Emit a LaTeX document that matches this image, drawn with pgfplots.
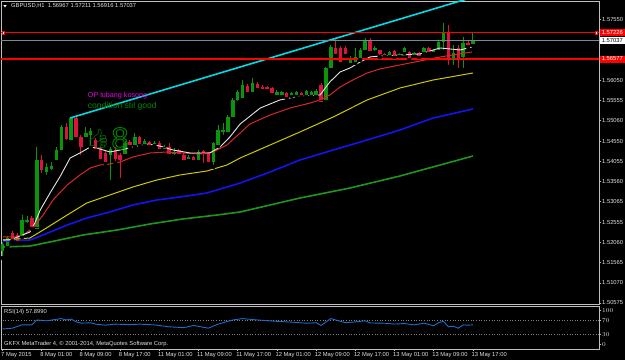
\documentclass[border=0pt]{standalone}
\usepackage{pgfplots}
\pgfplotsset{compat=1.18}
\usepackage{pgfplotstable}
\usepackage{fontspec}
\setmainfont{Liberation Sans}
\newfontfamily\emojifont{Noto Emoji}
\definecolor{framec}{RGB}{192,192,192}
\definecolor{labc}{RGB}{225,225,225}
\definecolor{cgreen}{RGB}{10,150,10}
\definecolor{cred}{RGB}{220,20,60}
\definecolor{mawhite}{RGB}{230,230,230}
\definecolor{mared}{RGB}{215,40,40}
\definecolor{mayellow}{RGB}{205,200,0}
\definecolor{mablue}{RGB}{20,20,240}
\definecolor{magreen}{RGB}{30,150,30}
\definecolor{cyanc}{RGB}{0,220,230}
\definecolor{hred}{RGB}{255,0,0}
\definecolor{bidc}{RGB}{119,136,153}
\definecolor{rsic}{RGB}{30,110,200}
\definecolor{magc}{RGB}{235,0,235}
\definecolor{txtgreen}{RGB}{0,135,0}
\newcommand\mtf{\fontsize{5.8}{6.5}\selectfont}

\pgfplotstableread{
i o h l c
0 1.51878 1.52075 1.51681 1.52026
1 1.52001 1.52222 1.51952 1.52173
4 1.52247 1.52739 1.52198 1.52616
5 1.52567 1.52714 1.52493 1.52616
7 1.52419 1.54412 1.52395 1.54092
9 1.53797 1.54018 1.53674 1.53920
10 1.53871 1.54043 1.53797 1.53944
11 1.54092 1.54412 1.54043 1.54338
12 1.54338 1.54953 1.54289 1.54904
14 1.54584 1.55150 1.54535 1.55125
17 1.54658 1.54904 1.54633 1.54756
18 1.54707 1.54879 1.54412 1.54805
22 1.54215 1.54412 1.53551 1.54363
25 1.54264 1.54559 1.54215 1.54510
27 1.54461 1.54756 1.54412 1.54658
29 1.54510 1.54609 1.54461 1.54559
31 1.54486 1.54559 1.54436 1.54510
33 1.54387 1.54461 1.54363 1.54412
35 1.54264 1.54387 1.54166 1.54289
38 1.54141 1.54215 1.54092 1.54166
40 1.54092 1.54338 1.54067 1.54289
43 1.54043 1.54535 1.53920 1.54510
44 1.54461 1.54953 1.54436 1.54830
45 1.54781 1.55002 1.54658 1.54830
46 1.54781 1.55199 1.54756 1.55150
47 1.55150 1.55617 1.55125 1.55568
48 1.55568 1.55814 1.55494 1.55765
49 1.55617 1.56060 1.55568 1.55937
51 1.55789 1.56109 1.55740 1.55986
56 1.55691 1.55814 1.55666 1.55765
57 1.55691 1.55789 1.55666 1.55765
59 1.55691 1.55765 1.55666 1.55740
60 1.55691 1.55789 1.55666 1.55765
62 1.55691 1.55814 1.55666 1.55789
63 1.55691 1.55789 1.55666 1.55765
64 1.55691 1.55839 1.55666 1.55789
66 1.55568 1.56380 1.55543 1.56355
67 1.56355 1.56921 1.56306 1.56872
71 1.56478 1.56650 1.56454 1.56601
72 1.56503 1.56847 1.56478 1.56626
73 1.56601 1.56847 1.56552 1.56798
74 1.56798 1.57093 1.56749 1.57044
76 1.56798 1.56896 1.56724 1.56847
79 1.56675 1.56773 1.56650 1.56749
81 1.56675 1.56724 1.56650 1.56700
82 1.56749 1.56872 1.56724 1.56847
84 1.56675 1.56749 1.56650 1.56724
86 1.56749 1.56872 1.56724 1.56847
88 1.56749 1.56823 1.56724 1.56798
89 1.56798 1.57019 1.56749 1.56995
90 1.56995 1.57462 1.56749 1.57241
92 1.56552 1.56921 1.56380 1.56724
94 1.56626 1.57118 1.56306 1.56970
96 1.56967 1.57211 1.56916 1.57037
}\bull

\pgfplotstableread{
i o h l c
2 1.52296 1.52345 1.52099 1.52149
3 1.52247 1.52296 1.52075 1.52124
6 1.52665 1.52714 1.52395 1.52444
8 1.54092 1.54215 1.53723 1.53846
13 1.54904 1.55002 1.54535 1.54609
15 1.55125 1.55150 1.54633 1.54658
16 1.54658 1.54707 1.54166 1.54412
19 1.54584 1.54633 1.54338 1.54387
20 1.54387 1.54412 1.54092 1.54117
21 1.54264 1.54313 1.54018 1.54043
23 1.54338 1.54412 1.54018 1.54141
24 1.54215 1.54264 1.53600 1.54092
26 1.54535 1.54584 1.54412 1.54461
28 1.54658 1.54682 1.54461 1.54510
30 1.54535 1.54559 1.54412 1.54461
32 1.54510 1.54559 1.54338 1.54387
34 1.54412 1.54510 1.54215 1.54240
36 1.54338 1.54363 1.54215 1.54264
37 1.54215 1.54264 1.54043 1.54092
39 1.54166 1.54190 1.54067 1.54092
41 1.54313 1.54338 1.53969 1.54264
42 1.54264 1.54289 1.54018 1.54043
50 1.55912 1.55962 1.55740 1.55765
52 1.55962 1.56011 1.55839 1.55863
53 1.55888 1.55937 1.55814 1.55839
54 1.55888 1.55912 1.55814 1.55839
55 1.55863 1.55888 1.55716 1.55740
58 1.55740 1.55765 1.55617 1.55642
61 1.55740 1.55765 1.55666 1.55691
65 1.55937 1.55986 1.55519 1.55543
68 1.56847 1.57093 1.56675 1.56700
69 1.56847 1.56896 1.56478 1.56503
70 1.56847 1.56896 1.56650 1.56700
75 1.57044 1.57093 1.56749 1.56773
77 1.56798 1.56798 1.56626 1.56700
78 1.56700 1.56724 1.56650 1.56675
80 1.56773 1.56798 1.56626 1.56650
83 1.56749 1.56773 1.56577 1.56601
85 1.56724 1.56749 1.56626 1.56650
87 1.56847 1.56872 1.56724 1.56749
91 1.57216 1.57413 1.56380 1.56552
93 1.56847 1.56921 1.56306 1.56552
95 1.56970 1.57044 1.56872 1.56921
}\bear

\pgfplotsset{
  wick/.style={only marks, mark=none, error bars/.cd, y dir=plus, y explicit, error mark=none,
     error bar style={draw=#1, line width=1pt, line cap=butt}},
  body/.style={only marks, mark=-, mark size=1.7pt, mark options={draw=#1, line width=1pt},
     error bars/.cd, y dir=plus, y explicit, error mark=none,
     error bar style={draw=#1, line width=3.4pt, line cap=butt}},
}

\begin{document}
\begin{tikzpicture}[x=1pt,y=1pt]
\fill[black] (0,0) rectangle (625,360);
\begin{axis}[
  at={(1pt,56pt)}, anchor=south west,
  scale only axis, width=598pt, height=303pt,
  xmin=-0.306, xmax=121.73, ymin=1.5055, ymax=1.58003,
  axis line style={draw=framec, line width=0.8pt},
  xtick=\empty,
  ytick={1.50575,1.51070,1.51565,1.52060,1.52555,1.53065,1.53560,1.54055,1.54550,1.55060,1.55555,1.56050,1.57550},
  yticklabels={1.50575,1.51070,1.51565,1.52060,1.52555,1.53065,1.53560,1.54055,1.54550,1.55060,1.55555,1.56050,1.57550},
  ytick pos=right, yticklabel pos=right,
  tick align=outside, major tick length=2pt,
  tick style={draw=framec, line width=0.6pt},
  yticklabel style={font=\mtf, text=labc, inner sep=0pt, anchor=west, xshift=1pt},
]
% wicks
\addplot[wick=cgreen] table[x=i, y=l, y error plus expr={\thisrow{h}-\thisrow{l}}, y error minus expr={0}] {\bull};
\addplot[wick=cred] table[x=i, y=l, y error plus expr={\thisrow{h}-\thisrow{l}}, y error minus expr={0}] {\bear};
% bodies
\addplot[body=cgreen] table[x=i, y=o, y error plus expr={\thisrow{c}-\thisrow{o}}, y error minus expr={0}] {\bull};
\addplot[body=cred] table[x=i, y=c, y error plus expr={\thisrow{o}-\thisrow{c}}, y error minus expr={0}] {\bear};
% moving averages
\addplot[draw=magreen, line width=1.6pt] coordinates {(0.1,1.51952) (5.6,1.51976) (9.7,1.52075) (16.4,1.52247) (23.4,1.52370) (30.1,1.52518) (36.8,1.52641) (43.8,1.52739) (48.5,1.52813) (60.7,1.53157) (70.9,1.53403) (81.1,1.53698) (96.0,1.54190)};
\addplot[draw=mablue, line width=1.6pt] coordinates {(0.1,1.52099) (5.6,1.52124) (8.3,1.52247) (13.2,1.52493) (17.2,1.52665) (21.9,1.52813) (26.6,1.52985) (31.5,1.53108) (36.2,1.53182) (41.7,1.53280) (45.8,1.53428) (48.5,1.53526) (54.6,1.53797) (60.7,1.54092) (67.5,1.54338) (74.4,1.54584) (81.1,1.54830) (87.9,1.55125) (96.0,1.55347)};
\addplot[draw=mayellow, line width=1pt] coordinates {(0.1,1.52124) (5.6,1.52173) (8.3,1.52370) (13.2,1.52739) (17.2,1.53034) (21.9,1.53231) (26.6,1.53428) (31.5,1.53600) (36.2,1.53723) (41.7,1.53821) (45.8,1.53969) (48.5,1.54141) (54.6,1.54461) (60.7,1.54781) (67.5,1.55150) (74.4,1.55568) (81.1,1.55863) (87.9,1.56060) (96.0,1.56232)};
\addplot[draw=mared, line width=1pt] coordinates {(0.1,1.52198) (3.6,1.52198) (6.2,1.52419) (8.3,1.52739) (10.3,1.53108) (13.2,1.53477) (15.8,1.53723) (17.9,1.53895) (19.9,1.53969) (21.9,1.53994) (24.0,1.54043) (26.6,1.54166) (30.1,1.54264) (33.6,1.54289) (36.8,1.54264) (40.3,1.54240) (43.0,1.54289) (45.8,1.54461) (48.5,1.54756) (50.5,1.54978) (54.6,1.55199) (58.7,1.55371) (62.8,1.55494) (64.8,1.55568) (66.8,1.55691) (68.9,1.55888) (71.5,1.56060) (74.4,1.56232) (77.0,1.56331) (81.1,1.56429) (85.2,1.56527) (89.3,1.56626) (91.9,1.56675) (95.8,1.56749)};
\addplot[draw=mawhite, line width=0.9pt] coordinates {(0.1,1.52124) (1.5,1.52124) (5.6,1.52321) (6.6,1.52542) (7.7,1.52862) (9.7,1.53280) (11.7,1.53674) (13.8,1.54141) (15.8,1.54264) (17.9,1.54412) (19.9,1.54363) (21.9,1.54289) (24.0,1.54338) (26.6,1.54412) (29.5,1.54486) (32.1,1.54436) (34.8,1.54338) (38.3,1.54264) (42.3,1.54264) (44.4,1.54412) (46.4,1.54658) (48.5,1.54978) (52.6,1.55371) (56.6,1.55568) (60.7,1.55666) (64.8,1.55691) (66.8,1.56011) (68.9,1.56257) (70.9,1.56355) (73.0,1.56503) (75.0,1.56626) (77.0,1.56650) (81.1,1.56675) (85.2,1.56700) (89.3,1.56847) (91.3,1.56823) (93.4,1.56798) (95.8,1.56872)};
% trend line and horizontal lines
\addplot[draw=cyanc, line width=1.6pt] coordinates {(13.8,1.55125) (96,1.58097)};
\addplot[draw=bidc, line width=0.9pt] coordinates {(-1,1.57037) (125,1.57037)};
\addplot[draw=hred, line width=1.6pt] coordinates {(-1,1.57226) (125,1.57226)};
\addplot[draw=hred, line width=1.6pt] coordinates {(-1,1.56577) (125,1.56577)};
\addplot[only marks, mark=square*, mark size=1.3pt, mark options={draw=hred, fill=white, line width=0.7pt}] coordinates {(0.2,1.57226) (121.2,1.57226)};
\end{axis}

\begin{axis}[
  at={(1pt,11pt)}, anchor=south west,
  scale only axis, width=598pt, height=43pt,
  xmin=-0.306, xmax=121.73, ymin=-14, ymax=114,
  axis line style={draw=framec, line width=0.8pt},
  xtick={0,8,...,96},
  xticklabels={7 May 2015,8 May 01:00,8 May 09:00,8 May 17:00,11 May 01:00,11 May 09:00,11 May 17:00,12 May 01:00,12 May 09:00,12 May 17:00,13 May 01:00,13 May 09:00,13 May 17:00},
  xtick pos=bottom,
  ytick={0,30,70,100}, ytick pos=right, yticklabel pos=right,
  tick align=outside, major tick length=2pt,
  tick style={draw=framec, line width=0.6pt},
  xticklabel style={font=\mtf, text=labc, inner sep=0pt, anchor=north west, xshift=-1.5pt, yshift=-1.5pt},
  yticklabel style={font=\mtf, text=labc, inner sep=0pt, anchor=west, xshift=1pt},
]
\addplot[draw=gray, dotted, line width=0.6pt] coordinates {(-1,70) (125,70)};
\addplot[draw=gray, dotted, line width=0.6pt] coordinates {(-1,30) (125,30)};
\addplot[draw=rsic, line width=0.9pt] coordinates {(0,45.5) (2,48) (4,58) (6,58) (7,72.4) (9,70) (12,76.5) (13,72.4) (14,75) (15,67) (16,63) (18,64) (19,60) (21,57) (23,60) (26,58.6) (28,60) (31,57.8) (34,52) (37,49.6) (39,56) (42,48) (44,60) (47,72.4) (49,76.5) (52,72.4) (56,68.4) (59,66) (62,62.7) (64,64.3) (65,56) (67,76.5) (68,72.4) (70,64.3) (72,66.7) (74,70) (75,63.5) (78,62.7) (80,60.2) (82,61.8) (84,57.8) (86,62.7) (88,55.3) (89,64.3) (90,68.4) (91,52) (92,53.7) (93,48) (94,57.8) (95,57) (96,57.9)};
\end{axis}

% header and texts
\fill[white] (3.3,355) -- (6.7,355) -- (5,352.6) -- cycle;
\node[anchor=west, font=\mtf, text=labc, inner sep=0pt] at (11,354) {GBPUSD,H1\ \ 1.56967 1.57211 1.56916 1.57037};
\node[anchor=west, font=\fontsize{7.2}{8}\selectfont, text=magc, inner sep=0pt] at (87.7,264.5) {OP lubang kosong};
\node[anchor=west, font=\fontsize{8.6}{9}\selectfont, text=txtgreen, inner sep=0pt] at (87.7,254) {condition stil good};
\node[font=\emojifont\fontsize{19}{20}\selectfont, text=txtgreen, inner sep=0pt, opacity=0.8] at (98.5,221) {\char"1F44D};
\node[font=\fontsize{31}{31}\selectfont, text=txtgreen, inner sep=0pt] at (120,221.5) {\special{pdf:literal direct 0.9 w 1 Tr}8\special{pdf:literal direct 0 Tr}};
\node[anchor=west, font=\mtf, text=labc, inner sep=0pt] at (4,48) {RSI(14) 57.8990};
\node[anchor=west, font=\mtf, text=labc, inner sep=0pt] at (4,16) {GKFX MetaTrader 4, \textcopyright{} 2001-2014, MetaQuotes Software Corp.};
% price tags at the right scale
\fill[hred] (600,323.7) rectangle (625,330.7);
\node[font=\mtf, text=white, inner sep=0pt] at (612.3,327.2) {1.57226};
\fill[white] (600,316.3) rectangle (625,323.1);
\node[font=\mtf, text=black, inner sep=0pt] at (612.3,319.7) {1.57037};
\fill[hred] (600,297.5) rectangle (625,304.5);
\node[font=\mtf, text=white, inner sep=0pt] at (612.3,301) {1.56577};
\pgfresetboundingbox
\useasboundingbox (0,0) rectangle (625,360);
\end{tikzpicture}
\end{document}
